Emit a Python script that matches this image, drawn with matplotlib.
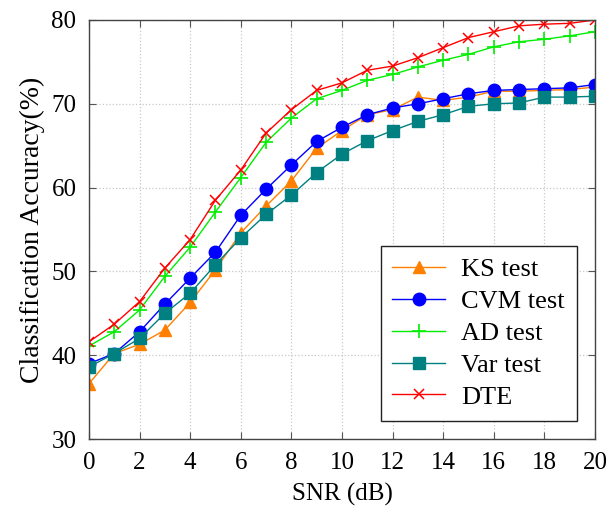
import numpy as np
import matplotlib
matplotlib.use('Agg')
import matplotlib.pyplot as plt

snr = list(range(0, 21))

ks_test = [36.6, 40.2, 41.3, 43.0, 46.3, 50.2, 54.6, 57.8, 60.8, 64.7, 66.8,
           68.7, 69.3, 70.8, 70.4, 70.8, 71.5, 71.5, 71.6, 71.7, 72.0]
cvm_test = [39.0, 40.2, 42.8, 46.1, 49.2, 52.3, 56.7, 59.8, 62.7, 65.5, 67.2,
            68.7, 69.5, 70.0, 70.6, 71.2, 71.6, 71.7, 71.8, 71.9, 72.3]
ad_test = [41.1, 42.8, 45.4, 49.4, 52.9, 57.1, 61.2, 65.4, 68.3, 70.6, 71.6,
           72.8, 73.5, 74.4, 75.2, 75.9, 76.8, 77.4, 77.7, 78.1, 78.6]
var_test = [38.6, 40.2, 42.0, 45.0, 47.4, 50.8, 54.0, 56.8, 59.1, 61.8, 64.0,
            65.6, 66.8, 67.9, 68.7, 69.7, 70.0, 70.1, 70.8, 70.8, 70.9]
dte = [41.6, 43.7, 46.4, 50.4, 53.8, 58.5, 62.1, 66.5, 69.3, 71.6, 72.5,
       74.0, 74.5, 75.5, 76.7, 77.9, 78.6, 79.3, 79.5, 79.6, 80.0]

plt.rcParams['font.family'] = ['Liberation Serif', 'DejaVu Serif']

fig = plt.figure(figsize=(6.07, 5.11), dpi=100)
ax = fig.add_axes([0.1466, 0.1409, 0.8336, 0.82])

ax.plot(snr, ks_test, color='#ff8000', marker='^', ms=8, lw=1, label='KS test')
ax.plot(snr, cvm_test, color='#0000ff', marker='o', ms=9, lw=1, label='CVM test')
ax.plot(snr, ad_test, color='#00ee00', marker='+', ms=10, mew=1.2, lw=1, label='AD test')
ax.plot(snr, var_test, color='#008080', marker='s', ms=8, lw=1, label='Var test')
ax.plot(snr, dte, color='#ff0000', marker='x', ms=7, mew=1.1, lw=1, label='DTE')

ax.set_xlim(0, 20)
ax.set_ylim(30, 80)
ax.set_xticks(range(0, 21, 2))
ax.set_yticks(range(30, 81, 10))
ax.grid(True, linestyle=':', color='#c8c8c8', linewidth=0.9)
ax.tick_params(direction='in', top=True, right=True, labelsize=18, length=5,
               color='#555555', pad=9)
for s in ax.spines.values():
    s.set_color('#444444')
    s.set_linewidth(1.0)

ax.set_xlabel('SNR (dB)', fontsize=18, labelpad=7)
ax.set_ylabel('Classification Accuracy(%)', fontsize=20, labelpad=5)

leg = ax.legend(loc='lower right', fontsize=19, fancybox=False, framealpha=1,
                edgecolor='#222222', handlelength=2.0, borderaxespad=0.7,
                labelspacing=0.32, handletextpad=0.6, borderpad=0.45)
leg.get_frame().set_linewidth(1.0)

plt.savefig('out.png', dpi=100)
